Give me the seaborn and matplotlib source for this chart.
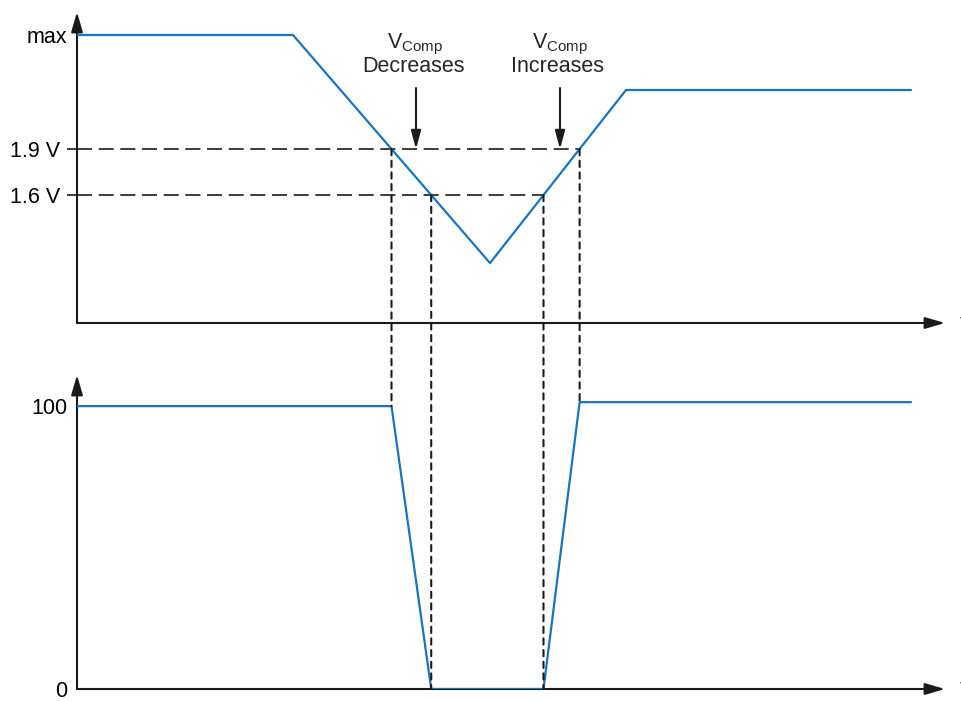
import numpy as np
import matplotlib
matplotlib.use("Agg")
import matplotlib.pyplot as plt
from matplotlib.patches import ConnectionPatch
import seaborn as sns

# --- data ------------------------------------------------------------------
# top panel: compensation voltage vs time (arbitrary time units)
t_vcomp = [0.0, 2.16, 4.13, 5.49, 8.34]
v_vcomp = [2.644, 2.644, 1.156, 2.285, 2.285]
v_max = 2.644
v_hi, v_lo = 1.9, 1.6
v_ticks = [v_lo, v_hi]
v_tick_labels = ["1.6 V", "1.9 V"]

# bottom panel: output (percent)
duty_hi_left = 100.0
duty_hi_right = 101.4
duty_ticks = [0, 100]
duty_tick_labels = ["0", "100"]

t_end = 8.34
BLUE = "#1874c1"

# crossing times of the thresholds on the falling / rising slopes
t_fall_hi = np.interp(v_hi, v_vcomp[2:0:-1], t_vcomp[2:0:-1])
t_fall_lo = np.interp(v_lo, v_vcomp[2:0:-1], t_vcomp[2:0:-1])
t_rise_lo = np.interp(v_lo, v_vcomp[2:4], t_vcomp[2:4])
t_rise_hi = np.interp(v_hi, v_vcomp[2:4], t_vcomp[2:4])

t_duty = [0.0, t_fall_hi, t_fall_lo, t_rise_lo, t_rise_hi, t_end]
duty = [duty_hi_left, duty_hi_left, 0, 0, duty_hi_right, duty_hi_right]

# --- style ------------------------------------------------------------------
sns.set_theme(style="white")
plt.rcParams["font.family"] = ["Liberation Sans", "DejaVu Sans"]
plt.rcParams["mathtext.fontset"] = "custom"
plt.rcParams["mathtext.rm"] = "Liberation Sans"
plt.rcParams["mathtext.it"] = "Liberation Sans"
FS = 15.5

W, H = 961, 701
fig = plt.figure(figsize=(W / 100, H / 100), dpi=100)
x0, x1 = 77, 945
ax1 = fig.add_axes([x0 / W, 1 - 323 / H, (x1 - x0) / W, (323 - 12) / H])
ax2 = fig.add_axes([x0 / W, 1 - 689 / H, (x1 - x0) / W, (689 - 375) / H])

xlim = (0, (x1 - x0) / 100)
ax1.set_xlim(*xlim)
ax2.set_xlim(*xlim)
ax1.set_ylim(0.765, 2.794)
ax2.set_ylim(0, 111)

sns.lineplot(x=t_vcomp, y=v_vcomp, ax=ax1, color=BLUE, lw=1.6, sort=False,
             estimator=None, zorder=5)
sns.lineplot(x=t_duty, y=duty, ax=ax2, color=BLUE, lw=1.6, sort=False,
             estimator=None, zorder=5)

# threshold dashed lines
dash = (0, (9, 4))
ax1.plot([0, t_rise_hi], [v_hi, v_hi], color="k", lw=1.2, ls=dash, zorder=1)
ax1.plot([0, t_rise_lo], [v_lo, v_lo], color="k", lw=1.2, ls=dash, zorder=1)

# dotted lines linking the two panels
dot = (0, (3, 2.6))
for t, va, vb in [(t_fall_hi, v_hi, duty_hi_left), (t_fall_lo, v_lo, 0),
                  (t_rise_lo, v_lo, 0), (t_rise_hi, v_hi, duty_hi_right)]:
    con = ConnectionPatch(xyA=(t, va), coordsA=ax1.transData,
                          xyB=(t, vb), coordsB=ax2.transData,
                          color="k", lw=1.5, ls=dot, zorder=3)
    fig.add_artist(con)

# axes with arrow heads
for ax in (ax1, ax2):
    ax.patch.set_visible(False)
    for s in ax.spines.values():
        s.set_visible(False)
    ax.set_xticks([])
    ax.grid(False)
    head = dict(arrowstyle="-|>,head_length=1.2,head_width=0.35", color="k",
                lw=1.5, shrinkA=0, shrinkB=0, mutation_scale=10)
    ax.annotate("", xy=(1, 0), xytext=(0, 0), xycoords="axes fraction", arrowprops=head)
    ax.annotate("", xy=(0, 1), xytext=(0, 0), xycoords="axes fraction", arrowprops=head)

ax1.set_yticks(v_ticks, v_tick_labels, fontsize=FS)
ax1.set_yticks([v_max], ["max"], minor=True, fontsize=FS)
ax1.tick_params(axis="y", which="major", length=7, width=1.2, color="k", pad=5, left=True)
ax1.tick_params(axis="y", which="minor", length=0, pad=7, left=True)
ax2.set_yticks(duty_ticks, duty_tick_labels, fontsize=FS)
ax2.tick_params(axis="y", length=0, pad=7, left=True)
for ax in (ax1, ax2):
    for lab in ax.get_yticklabels(which="both"):
        lab.set_color("black")

# annotations
arr = dict(arrowstyle="-|>,head_length=1.1,head_width=0.3", color="k",
           lw=1.5, shrinkA=0, shrinkB=0, mutation_scale=10)
for tx, ta, word in [(3.365, 3.39, "Decreases"), (4.81, 4.83, "Increases")]:
    ax1.text(tx + 0.02, 2.559, r"$\mathregular{V_{Comp}}$", ha="center", va="baseline", fontsize=FS)
    ax1.text(tx, 2.40, word, ha="center", va="baseline", fontsize=FS)
    ax1.annotate("", xy=(ta, v_hi), xytext=(ta, 2.298), xycoords="data", arrowprops=arr)

# time label clipped at the right edge, as in the reference
fig.text(959.5 / W, 1 - 323 / H, "t", fontsize=FS, ha="left", va="center")
fig.text(959.5 / W, 1 - 689 / H, "t", fontsize=FS, ha="left", va="center")

fig.savefig("out.png", dpi=100)
